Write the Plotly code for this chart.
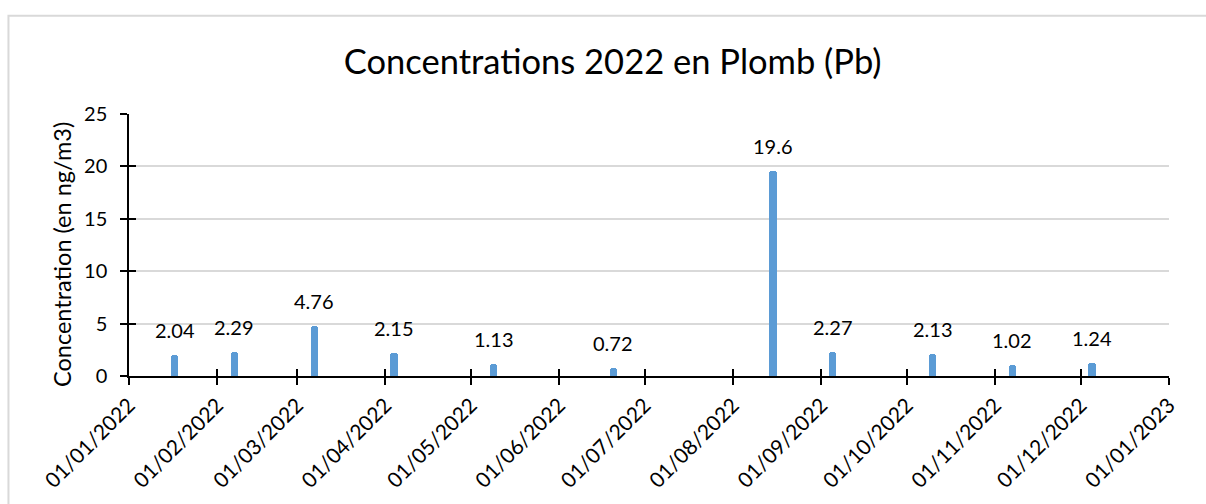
import plotly.graph_objects as go

# ---- data ----
dates = ["2022-01-17", "2022-02-07", "2022-03-07", "2022-04-04", "2022-05-09",
         "2022-06-20", "2022-08-15", "2022-09-05", "2022-10-10", "2022-11-07",
         "2022-12-05"]
values = [2.04, 2.29, 4.76, 2.15, 1.13, 0.72, 19.6, 2.27, 2.13, 1.02, 1.24]
labels = ["2.04", "2.29", "4.76", "2.15", "1.13", "0.72", "19.6", "2.27", "2.13", "1.02", "1.24"]
x_tickvals = ["2022-01-01", "2022-02-01", "2022-03-01", "2022-04-01", "2022-05-01",
              "2022-06-01", "2022-07-01", "2022-08-01", "2022-09-01", "2022-10-01",
              "2022-11-01", "2022-12-01", "2023-01-01"]
x_ticktext = ["01/01/2022", "01/02/2022", "01/03/2022", "01/04/2022", "01/05/2022",
              "01/06/2022", "01/07/2022", "01/08/2022", "01/09/2022", "01/10/2022",
              "01/11/2022", "01/12/2022", "01/01/2023"]
y_tickvals = [0, 5, 10, 15, 20, 25]

title = "Concentrations 2022 en Plomb (Pb)"
y_title = "Concentration (en ng/m3)"

FONT = "Lato"
BAR_COLOR = "#5B9BD5"
DAY_MS = 86400000

fig = go.Figure()
fig.add_trace(go.Bar(
    x=dates, y=values, width=[2.6 * DAY_MS] * len(values),
    marker=dict(color=BAR_COLOR, line=dict(width=0), cornerradius=3),
    hoverinfo="x+y", showlegend=False,
))
# invisible trace so the overlay axes (used for crossing ticks) render
fig.add_trace(go.Scatter(x=[x_tickvals[0]], y=[0], xaxis="x2", yaxis="y2",
                         mode="markers", marker=dict(opacity=0),
                         hoverinfo="skip", showlegend=False))

for d, v, t in zip(dates, values, labels):
    fig.add_annotation(x=d, y=v, text=t, showarrow=False, yanchor="bottom",
                       yshift=11, font=dict(family=FONT, size=20, color="#000000"))

# y-axis title as a rotated annotation (sits slightly below centre, as in the reference)
fig.add_annotation(xref="paper", yref="paper", x=-0.0644, y=0.462, text=y_title,
                   textangle=-90, showarrow=False, xanchor="center", yanchor="middle",
                   font=dict(family=FONT, size=23.5, color="#000000"))

xr = [x_tickvals[0], x_tickvals[-1]]
common_x = dict(range=xr, type="date", tickmode="array", tickvals=x_tickvals,
                showgrid=False, zeroline=False)
fig.update_layout(
    width=1206, height=504,
    margin=dict(l=129, r=37, t=114, b=126),
    paper_bgcolor="white", plot_bgcolor="white",
    font=dict(family=FONT, color="#000000"),
    title=dict(text=title, x=0.508, xanchor="center", y=0.877, yanchor="middle",
               font=dict(family=FONT, size=34.5, color="#000000")),
    bargap=0,
    xaxis=dict(**common_x, ticktext=x_ticktext, tickangle=-45,
               showline=True, linecolor="#000000", linewidth=1.5,
               ticks="outside", ticklen=7, tickwidth=1.5, tickcolor="#000000",
               tickfont=dict(family=FONT, size=21, color="#000000")),
    yaxis=dict(range=[0, 25], tickmode="array", tickvals=y_tickvals,
               showgrid=True, gridcolor="#D9D9D9", gridwidth=1.5, zeroline=False,
               showline=True, linecolor="#000000", linewidth=1.5,
               ticks="outside", ticklen=7, tickwidth=1.5, tickcolor="#000000",
               ticklabelstandoff=9,
               tickfont=dict(family=FONT, size=20, color="#000000")),
    xaxis2=dict(**common_x, overlaying="x", anchor="y2", side="bottom",
                showticklabels=False, showline=False,
                ticks="inside", ticklen=7, tickwidth=1.5, tickcolor="#000000"),
    yaxis2=dict(range=[0, 25], tickmode="array", tickvals=y_tickvals, overlaying="y",
                anchor="x2", side="left", showgrid=False, zeroline=False,
                showticklabels=False, showline=False,
                ticks="inside", ticklen=7, tickwidth=1.5, tickcolor="#000000"),
    shapes=[dict(type="rect", xref="paper", yref="paper",
                 x0=-0.1159, x1=1.2, y0=-1.0, y1=1.375,
                 line=dict(color="#D9D9D9", width=2), fillcolor="rgba(0,0,0,0)",
                 layer="below")],
)

fig.write_html("out.html", config={"displayModeBar": False},
               post_script="document.body.style.margin='0';"
                           "document.body.style.overflow='hidden';")
